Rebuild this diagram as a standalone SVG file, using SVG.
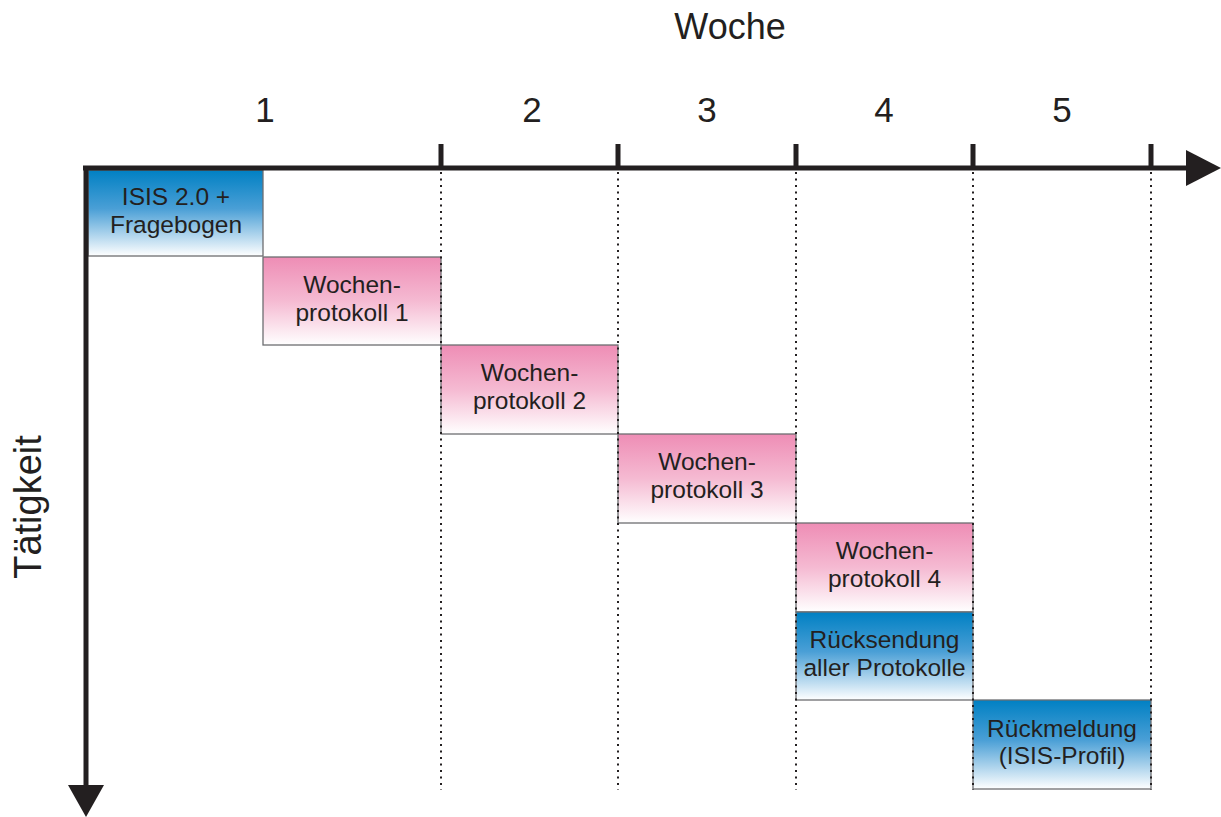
<svg xmlns="http://www.w3.org/2000/svg" width="1221" height="817" viewBox="0 0 1221 817">
  <defs>
    <linearGradient id="gBlue" x1="0" y1="0" x2="0" y2="1">
      <stop offset="0" stop-color="#0080c3"/>
      <stop offset="0.45" stop-color="#4a9fd6"/>
      <stop offset="1" stop-color="#ffffff"/>
    </linearGradient>
    <linearGradient id="gPink" x1="0" y1="0" x2="0" y2="1">
      <stop offset="0" stop-color="#ee8db5"/>
      <stop offset="0.5" stop-color="#f5bad2"/>
      <stop offset="1" stop-color="#ffffff"/>
    </linearGradient>
    <style>
      .lbl { font-family: "Liberation Sans", Arial, sans-serif; fill: #231f20; text-anchor: middle; }
      .box-text { font-size: 24.5px; }
      .big { font-size: 36px; }
      .side { font-size: 38px; }
      .num { font-size: 35px; }
      .box { stroke: #6d6e71; stroke-width: 1.3; }
      .blue { fill: url(#gBlue); }
      .pink { fill: url(#gPink); }
      .grid { stroke: #231f20; stroke-width: 2; stroke-dasharray: 2 4.5; fill: none; }
      .axis { stroke: #231f20; stroke-width: 5; fill: none; }
      .head { fill: #231f20; }
    </style>
  </defs>

  <rect width="1221" height="817" fill="#ffffff"/>

  <!-- axis titles and week numbers -->
  <g id="titles">
    <text class="lbl big" x="730" y="39">Woche</text>
    <text class="lbl side" transform="translate(41,507) rotate(-90)" x="0" y="0">Tätigkeit</text>
    <text class="lbl num" x="265" y="122">1</text>
    <text class="lbl num" x="532" y="122">2</text>
    <text class="lbl num" x="707" y="122">3</text>
    <text class="lbl num" x="884" y="122">4</text>
    <text class="lbl num" x="1062" y="122">5</text>
  </g>

  <!-- activity boxes -->
  <g id="isis">
    <rect class="box blue" x="88" y="170" width="175" height="86"/>
    <text class="lbl box-text" x="176" y="205">ISIS 2.0 +</text>
    <text class="lbl box-text" x="176" y="233">Fragebogen</text>
  </g>
  <g id="wp1">
    <rect class="box pink" x="263" y="257" width="178" height="88"/>
    <text class="lbl box-text" x="352" y="293">Wochen-</text>
    <text class="lbl box-text" x="352" y="321">protokoll 1</text>
  </g>
  <g id="wp2">
    <rect class="box pink" x="441" y="345" width="177" height="89"/>
    <text class="lbl box-text" x="529.5" y="381">Wochen-</text>
    <text class="lbl box-text" x="529.5" y="409">protokoll 2</text>
  </g>
  <g id="wp3">
    <rect class="box pink" x="618" y="434" width="178" height="89"/>
    <text class="lbl box-text" x="707" y="470">Wochen-</text>
    <text class="lbl box-text" x="707" y="498">protokoll 3</text>
  </g>
  <g id="wp4">
    <rect class="box pink" x="796" y="523" width="177" height="89"/>
    <text class="lbl box-text" x="884.5" y="559">Wochen-</text>
    <text class="lbl box-text" x="884.5" y="587">protokoll 4</text>
  </g>
  <g id="ruecksendung">
    <rect class="box blue" x="796" y="612" width="177" height="88"/>
    <text class="lbl box-text" x="884.5" y="648">Rücksendung</text>
    <text class="lbl box-text" x="884.5" y="676">aller Protokolle</text>
  </g>
  <g id="rueckmeldung">
    <rect class="box blue" x="973" y="700" width="178" height="89"/>
    <text class="lbl box-text" x="1062" y="737">Rückmeldung</text>
    <text class="lbl box-text" x="1062" y="764">(ISIS-Profil)</text>
  </g>

  <!-- week grid, axes and ticks -->
  <g id="connectors">
    <path class="grid" d="M441 172V790 M618 172V790 M796 172V790 M973 172V790 M1151 172V790"/>
    <path class="axis" d="M83 168H1190 M86 166V788"/>
    <path class="axis" d="M441 144V168 M618 144V168 M796 144V168 M973 144V168 M1151 144V168"/>
    <polygon class="head" points="1186,150 1221,168 1186,186"/>
    <polygon class="head" points="68,785 104,785 86,817"/>
  </g>
</svg>
